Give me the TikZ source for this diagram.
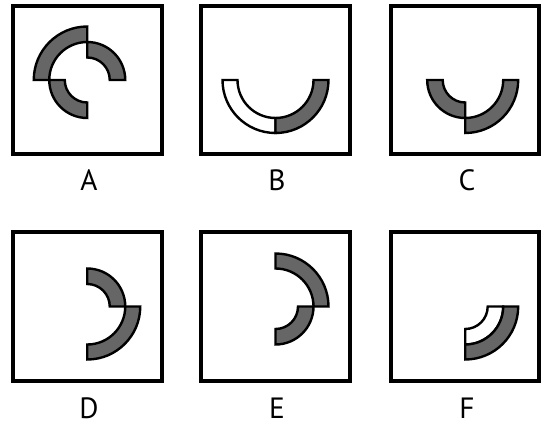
\documentclass[tikz,border=0pt]{standalone}
\usepackage{fontspec}
\setmainfont{PT Sans}
\definecolor{PieceGray}{RGB}{102,102,102}
\usetikzlibrary{positioning}

% quarter of a ring: center, start angle, inner radius, outer radius, fill
\newcommand{\ringpart}[5]{%
  \draw[piece, fill=#5] (#1) ++(#2:#3)
    arc[start angle=#2, delta angle=90, radius=#3]
    -- ++(#2+90:#4-#3)
    arc[start angle=#2+90, delta angle=-90, radius=#4] -- cycle;}

\begin{document}
\begin{tikzpicture}[
    x=0.75pt, y=0.75pt,
    frame/.style={draw, line width=3pt, minimum size=111.4pt, inner sep=0pt},
    piece/.style={draw, line width=1.8pt, line join=miter},
    tag/.style={font=\fontsize{22}{26}\selectfont, inner sep=0pt}
]
    \useasboundingbox (0,0) rectangle (546,426);

    \node[frame] (boxA) at ( 87.25,346)   {};
    \node[frame] (boxB) at (275.5, 346)   {};
    \node[frame] (boxC) at (465.2, 346)   {};
    \node[frame] (boxD) at ( 87.25,119.5) {};
    \node[frame] (boxE) at (275.5, 119.5) {};
    \node[frame] (boxF) at (465.2, 119.5) {};

    \node[tag] (labA) at ( 89,246) {A};
    \node[tag] (labB) at (277,246) {B};
    \node[tag] (labC) at (467,246) {C};
    \node[tag] (labD) at ( 89, 18) {D};
    \node[tag] (labE) at (277, 18) {E};
    \node[tag] (labF) at (467, 18) {F};

    % A
    \ringpart{boxA.center}{90}{38}{53.5}{PieceGray}
    \ringpart{boxA.center}{0}{22.5}{38}{PieceGray}
    \ringpart{boxA.center}{180}{22.5}{38}{PieceGray}
    % B
    \ringpart{boxB.center}{180}{38}{53}{white}
    \ringpart{boxB.center}{270}{38}{53}{PieceGray}
    % C
    \ringpart{boxC.center}{180}{22.5}{38}{PieceGray}
    \ringpart{boxC.center}{270}{38}{53}{PieceGray}
    % D
    \ringpart{boxD.center}{0}{22.5}{38}{PieceGray}
    \ringpart{boxD.center}{270}{38}{53}{PieceGray}
    % E
    \ringpart{boxE.center}{0}{38}{53}{PieceGray}
    \ringpart{boxE.center}{270}{22.5}{38}{PieceGray}
    % F
    \ringpart{boxF.center}{270}{22.5}{38}{white}
    \ringpart{boxF.center}{270}{38}{53}{PieceGray}
\end{tikzpicture}
\end{document}
